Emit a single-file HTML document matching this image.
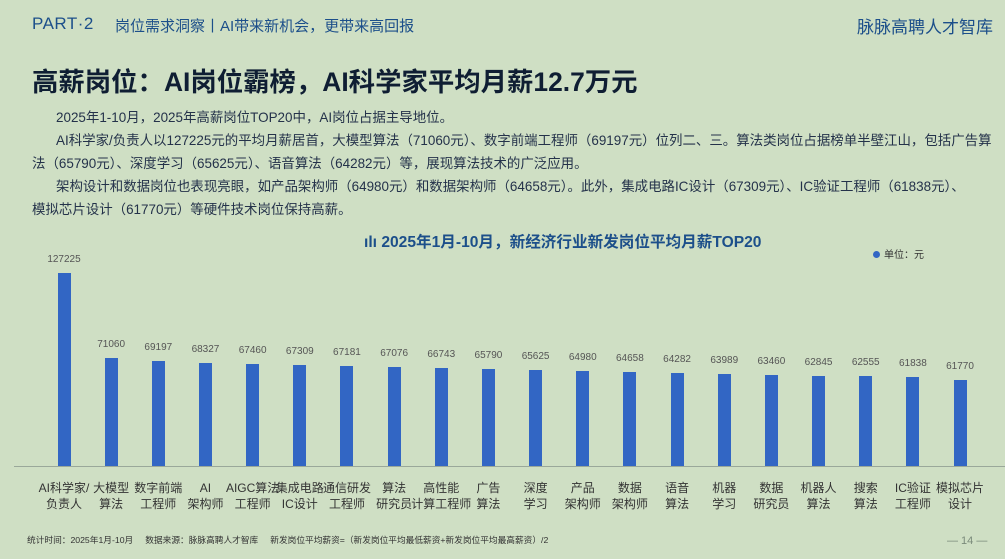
<!DOCTYPE html>
<html><head><meta charset="utf-8"><style>
body{margin:0;width:1005px;height:559px;background:#cfdfc4;font-family:"Liberation Sans","Noto Sans CJK SC",sans-serif;position:relative;overflow:hidden;color:#1f2d3d}
.a{position:absolute;white-space:nowrap}
.p{left:32px;font-size:13.45px;color:#24324a}
.v{position:absolute;font-size:10px;color:#555;width:60px;text-align:center}
.b{position:absolute;width:13px;background:#3266c4}
.c{position:absolute;font-size:12px;color:#333;width:76px;text-align:center;line-height:16px;top:480px}
</style></head><body>
<div class="a" style="left:32px;top:14px;font-size:17px;color:#1c4f8a;letter-spacing:0.5px">PART·2</div>
<div class="a" style="left:115px;top:15px;font-size:15px;color:#1c4f8a">岗位需求洞察丨AI带来新机会，更带来高回报</div>
<div class="a" style="left:857px;top:13px;font-size:17px;color:#1c4f8a">脉脉高聘人才智库</div>
<div class="a" style="left:32px;top:60px;font-size:26.4px;font-weight:bold;color:#0f1e33">高薪岗位：AI岗位霸榜，AI科学家平均月薪12.7万元</div>
<div class="a p" style="left:56px;top:106px">2025年1-10月，2025年高薪岗位TOP20中，AI岗位占据主导地位。</div>
<div class="a p" style="left:56px;top:129px">AI科学家/负责人以127225元的平均月薪居首，大模型算法（71060元）、数字前端工程师（69197元）位列二、三。算法类岗位占据榜单半壁江山，包括广告算</div>
<div class="a p" style="top:152px">法（65790元）、深度学习（65625元）、语音算法（64282元）等，展现算法技术的广泛应用。</div>
<div class="a p" style="left:56px;top:175px">架构设计和数据岗位也表现亮眼，如产品架构师（64980元）和数据架构师（64658元）。此外，集成电路IC设计（67309元）、IC验证工程师（61838元）、</div>
<div class="a p" style="top:198px">模拟芯片设计（61770元）等硬件技术岗位保持高薪。</div>
<div class="a" style="left:364px;top:230px;font-size:15.6px;font-weight:bold;color:#1c4f8a">ılı 2025年1月-10月，新经济行业新发岗位平均月薪TOP20</div>
<div class="a" style="left:873px;top:246px;font-size:10px;color:#333"><span style="display:inline-block;width:7px;height:7px;border-radius:50%;background:#3266c4;margin-right:4px"></span>单位：元</div>
<div style="position:absolute;left:14px;right:0;top:466px;height:1px;background:#9aa89a"></div>
<div id="ch"></div>
<div class="a" style="left:27px;top:533px;font-size:8.7px;color:#333">统计时间：2025年1月-10月&nbsp;&nbsp;&nbsp;&nbsp;&nbsp;数据来源：脉脉高聘人才智库&nbsp;&nbsp;&nbsp;&nbsp;&nbsp;新发岗位平均薪资=（新发岗位平均最低薪资+新发岗位平均最高薪资）/2</div>
<div class="a" style="left:947px;top:535px;font-size:11px;color:#7a8a7a">— 14 —</div>
<script>
var d=[[127225,273,"AI科学家/<br>负责人"],[71060,358,"大模型<br>算法"],[69197,361,"数字前端<br>工程师"],[68327,363,"AI<br>架构师"],[67460,364,"AIGC算法<br>工程师"],[67309,365,"集成电路<br>IC设计"],[67181,366,"通信研发<br>工程师"],[67076,367,"算法<br>研究员"],[66743,368,"高性能<br>计算工程师"],[65790,369,"广告<br>算法"],[65625,370,"深度<br>学习"],[64980,371,"产品<br>架构师"],[64658,372,"数据<br>架构师"],[64282,373,"语音<br>算法"],[63989,374,"机器<br>学习"],[63460,375,"数据<br>研究员"],[62845,376,"机器人<br>算法"],[62555,376,"搜索<br>算法"],[61838,377,"IC验证<br>工程师"],[61770,380,"模拟芯片<br>设计"]];
var h="";d.forEach(function(e,i){var x=64+i*47.16;h+='<div class="b" style="left:'+(x-6.5)+'px;top:'+e[1]+'px;height:'+(466-e[1])+'px"></div><div class="v" style="left:'+(x-30)+'px;top:'+(e[1]-19)+'px">'+e[0]+'</div><div class="c" style="left:'+(x-38)+'px">'+e[2]+'</div>';});
document.getElementById("ch").innerHTML=h;
</script>
</body></html>
